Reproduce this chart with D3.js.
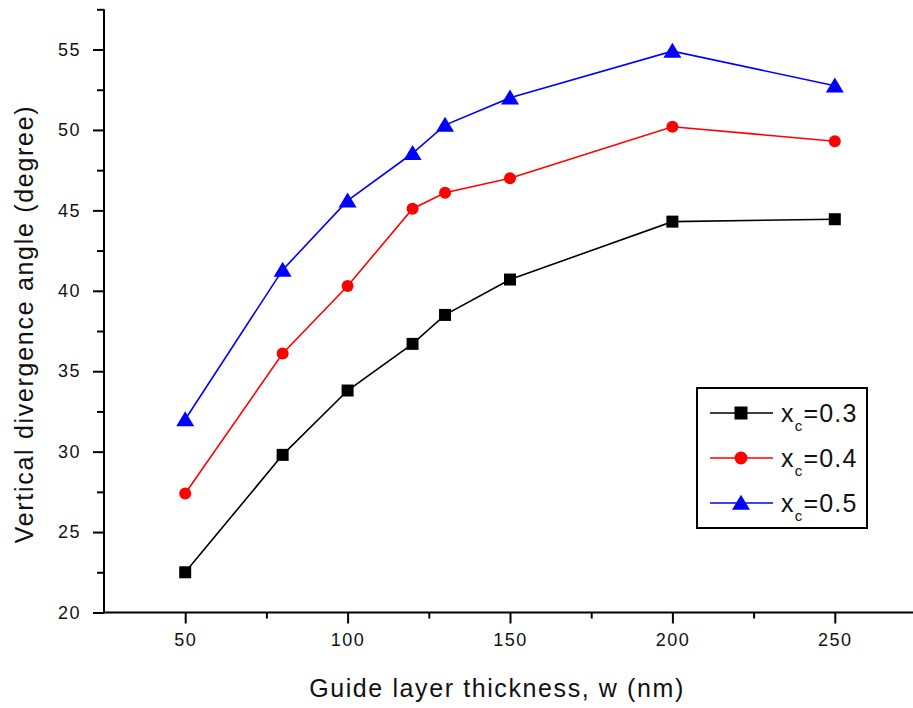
<!DOCTYPE html>
<html><head><meta charset="utf-8">
<script src="https://cdn.jsdelivr.net/npm/d3@7"></script>
<style>html,body{margin:0;padding:0;background:#fff;}</style>
</head><body>
<script>
const thickness = [50, 80, 100, 120, 130, 150, 200, 250];
const xc03 = [22.5, 29.8, 33.8, 36.7, 38.5, 40.7, 44.3, 44.45];
const xc04 = [27.4, 36.1, 40.3, 45.1, 46.1, 47.0, 50.2, 49.3];
const xc05 = [32.0, 41.3, 45.6, 48.55, 50.3, 52.0, 54.9, 52.75];
const seriesNames = ["0.3", "0.4", "0.5"];
const xTicks = [50, 100, 150, 200, 250];
const yTicks = [20, 25, 30, 35, 40, 45, 50, 55];

const W = 913, H = 708;
const svg = d3.select("body").append("svg").attr("width", W).attr("height", H)
  .style("font-family", "'Liberation Sans', Arial, sans-serif");

const x = d3.scaleLinear().domain([25, 275]).range([104, 916]);
const y = d3.scaleLinear().domain([20, 57.5]).range([612.5, 9.3]);

// axes
const xAxisG = svg.append("g").attr("transform", `translate(0,${y(20)})`);
xAxisG.call(d3.axisBottom(x).tickValues(d3.range(75, 275, 50)).tickSize(6).tickFormat(""));
xAxisG.append("g").call(d3.axisBottom(x).tickValues(xTicks).tickSize(11).tickPadding(10).tickFormat(d3.format("d")));
xAxisG.selectAll(".domain").remove();
xAxisG.append("line").attr("x1", x(25)).attr("x2", W).attr("stroke", "#000").attr("stroke-width", 2);

const yAxisG = svg.append("g").attr("transform", `translate(${x(25)},0)`);
yAxisG.call(d3.axisLeft(y).tickValues(d3.range(22.5, 58, 5)).tickSize(7).tickFormat(""));
yAxisG.append("g").call(d3.axisLeft(y).tickValues(yTicks).tickSize(11).tickPadding(12).tickFormat(d3.format("d")));
yAxisG.selectAll(".domain").remove();
yAxisG.append("line").attr("y1", y(20) + 1).attr("y2", y(57.5)).attr("stroke", "#000").attr("stroke-width", 2);

svg.selectAll(".tick line").attr("stroke", "#000").attr("stroke-width", 2);
svg.selectAll(".tick text").attr("fill", "#111").style("font-size", "18px").style("letter-spacing", "1.5px")
  .style("font-family", "'Liberation Sans', Arial, sans-serif");

// titles
svg.append("text").attr("x", 497).attr("y", 697).attr("text-anchor", "middle")
  .style("font-size", "25px").style("letter-spacing", "1.6px").attr("fill", "#111")
  .text("Guide layer thickness, w  (nm)");
svg.append("text").attr("transform", `translate(33,324) rotate(-90)`).attr("text-anchor", "middle")
  .style("font-size", "25px").style("letter-spacing", "1.7px").attr("fill", "#111")
  .text("Vertical divergence angle (degree)");

const series = [
  {vals: xc03, color: "#000", shape: "square"},
  {vals: xc04, color: "#ff0000", shape: "circle"},
  {vals: xc05, color: "#0000ff", shape: "triangle"}
];

function drawMarker(g, shape, color, s) {
  if (shape === "square") g.append("rect").attr("x", -s/2).attr("y", -s/2).attr("width", s).attr("height", s).attr("fill", color);
  else if (shape === "circle") g.append("circle").attr("r", s/2).attr("fill", color);
  else g.append("path").attr("d", `M0,${-s*0.55}L${s*0.6},${s*0.45}L${-s*0.6},${s*0.45}Z`).attr("fill", color);
}

const line = d3.line().x((d, i) => x(thickness[i])).y(d => y(d));
series.forEach(s => {
  svg.append("path").datum(s.vals).attr("d", line).attr("fill", "none")
    .attr("stroke", s.color).attr("stroke-width", 1.6);
  s.vals.forEach((v, i) => {
    const g = svg.append("g").attr("transform", `translate(${x(thickness[i])},${y(v)})`);
    drawMarker(g, s.shape, s.color, s.shape === "triangle" ? 15 : 12);
  });
});

// legend
svg.append("rect").attr("x", 697).attr("y", 388).attr("width", 170).attr("height", 140)
  .attr("fill", "#fff").attr("stroke", "#000").attr("stroke-width", 2);
series.forEach((s, i) => {
  const cy = 413 + i * 45;
  svg.append("line").attr("x1", 710).attr("x2", 773).attr("y1", cy).attr("y2", cy)
    .attr("stroke", s.color).attr("stroke-width", 1.6);
  const g = svg.append("g").attr("transform", `translate(741,${cy})`);
  drawMarker(g, s.shape, s.color, s.shape === "triangle" ? 15 : 13);
  const t = svg.append("text").attr("x", 781).attr("y", cy + 9).attr("fill", "#111")
    .style("font-size", "25px").style("letter-spacing", "1.2px");
  t.append("tspan").text("x");
  t.append("tspan").attr("dy", 9).style("font-size", "15px").text("c");
  t.append("tspan").attr("dy", -9).text("=" + seriesNames[i]);
});
</script>
</body></html>
